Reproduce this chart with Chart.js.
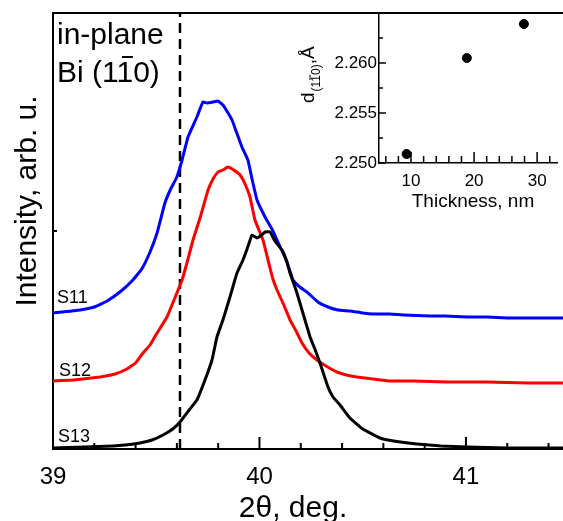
<!DOCTYPE html>
<html><head><meta charset="utf-8">
<script src="https://cdn.jsdelivr.net/npm/chart.js@4.4.1/dist/chart.umd.min.js"></script>
<style>
html,body{margin:0;padding:0;background:#fff;}
#wrap{position:relative;width:563px;height:521px;overflow:hidden;background:#fff;}
#main{position:absolute;left:0;top:0;}
#inset{position:absolute;left:290px;top:0;}
</style></head><body>
<div id="wrap"><canvas id="main" width="563" height="521"></canvas><canvas id="inset" width="273" height="215"></canvas></div>
<script>
const FONT = '"Liberation Sans", Arial, Helvetica, sans-serif';

// ---- main panel data (2θ in degrees, intensity in arb. u.) ----
const angleS11 = [39.000,39.131,39.200,39.262,39.330,39.387,39.430,39.470,39.504,39.542,39.570,39.600,39.625,39.654,39.697,39.726,39.745,39.775,39.799,39.823,39.845,39.867,39.890,39.915,39.944,39.965,39.988,40.027,40.060,40.085,40.133,40.162,40.195,40.230,40.283,40.332,40.380,40.438,40.500,40.550,40.632,40.700,40.826,40.900,41.005,41.100,41.200,41.300,41.470];
const intensityS11 = [136,139,142,148,158,169,180,197,216,246,260,272,289,312,332,347,346,347,348,344,337,329,316,302,289,269,249,232,220,209,187,169,162,157,147,142,139,138,136,135,135,134,133,133,132,132,131,131,131];

const angleS12 = [39.000,39.100,39.228,39.300,39.358,39.400,39.436,39.470,39.504,39.552,39.600,39.625,39.650,39.678,39.715,39.751,39.775,39.799,39.823,39.847,39.875,39.906,39.930,39.954,39.978,40.017,40.040,40.065,40.085,40.120,40.148,40.180,40.206,40.240,40.278,40.330,40.375,40.420,40.472,40.550,40.632,40.750,40.900,41.100,41.300,41.470];
const intensityS12 = [68,69,72,75,80,86,96,104,116,132,156,169,187,209,233,259,270,277,279,282,279,274,265,252,229,209,190,170,159,143,129,117,106,96,89,82,77,74,72,70,68,68,67,67,66,66];

const angleS13 = [39.000,39.150,39.291,39.350,39.421,39.480,39.533,39.580,39.615,39.663,39.697,39.736,39.770,39.794,39.823,39.857,39.891,39.920,39.940,39.964,39.988,40.010,40.027,40.051,40.075,40.109,40.130,40.148,40.180,40.206,40.245,40.270,40.293,40.332,40.356,40.390,40.438,40.500,40.584,40.650,40.763,40.880,41.005,41.200,41.470];
const intensityS13 = [1,2,3,4,6,9,14,20,27,40,49,69,89,112,129,152,176,189,200,214,211,214,217,217,208,199,189,176,157,139,112,99,86,62,52,44,31,20,11,8,5,3,2,1,1];

const dashedAngle = 39.615;
const xTickValues = [39, 40, 41];
const seriesLabels = ['S11', 'S12', 'S13'];

// ---- inset data ----
const thickness = [9.3, 18.85, 27.9];
const dSpacing = [2.2509, 2.2605, 2.2639];
const insetXTicks = [10, 20, 30];
const insetYTicks = [2.250, 2.255, 2.260];

const pts = (xs, ys) => xs.map((x, i) => ({x, y: ys[i]}));

const mainDecor = {
  id: 'mainDecor',
  afterDraw(chart) {
    const ctx = chart.ctx, xs = chart.scales.x, ys = chart.scales.y;
    const {left, right, top, bottom} = chart.chartArea;
    ctx.save();
    ctx.strokeStyle = '#000'; ctx.lineWidth = 2;
    ctx.beginPath(); ctx.moveTo(left - 1, top); ctx.lineTo(right, top); ctx.stroke();
    for (let i = 0; i <= 12; i++) {
      const v = 39 + i * 0.2;
      const px = xs.getPixelForValue(v);
      const len = (i % 5 === 0) ? 12 : 6;
      ctx.beginPath(); ctx.moveTo(px, bottom); ctx.lineTo(px, bottom - len); ctx.stroke();
    }
    const my = ys.getPixelForValue((ys.min + ys.max) / 2);
    ctx.beginPath(); ctx.moveTo(left, my); ctx.lineTo(left + 4, my); ctx.stroke();

    ctx.fillStyle = '#000';
    ctx.textAlign = 'left'; ctx.textBaseline = 'alphabetic';
    ctx.font = '30px ' + FONT;
    ctx.fillText('in-plane', 57, 44);
    ctx.fillText('Bi (110)', 57, 82);
    const w1 = ctx.measureText('Bi (1').width, w2 = ctx.measureText('1').width;
    ctx.lineWidth = 2;
    ctx.beginPath(); ctx.moveTo(57 + w1 + 0.2 * w2, 57); ctx.lineTo(57 + w1 + 0.85 * w2, 57); ctx.stroke();

    ctx.font = '18px ' + FONT;
    ctx.fillText(seriesLabels[0], 57, 303);
    ctx.fillText(seriesLabels[1], 59, 376);
    ctx.fillText(seriesLabels[2], 58, 442);

    ctx.font = '30px ' + FONT;
    ctx.textAlign = 'center';
    ctx.fillText('2\u03B8, deg.', 293, 517);
    ctx.save();
    ctx.translate(36, 201); ctx.rotate(-Math.PI / 2);
    ctx.fillText('Intensity, arb. u.', 0, 0);
    ctx.restore();
    ctx.restore();
  }
};

new Chart(document.getElementById('main'), {
  type: 'line',
  data: {
    datasets: [
      {label: 'S13', data: pts(angleS13, intensityS13), borderColor: '#000000', borderWidth: 3, pointRadius: 0, tension: 0.1, fill: false},
      {label: 'S12', data: pts(angleS12, intensityS12), borderColor: '#ff0000', borderWidth: 3, pointRadius: 0, tension: 0.1, fill: false},
      {label: 'S11', data: pts(angleS11, intensityS11), borderColor: '#0000ff', borderWidth: 3, pointRadius: 0, tension: 0.1, fill: false},
      {label: 'ref', data: [{x: dashedAngle, y: 0}, {x: dashedAngle, y: 436}], borderColor: '#000', borderWidth: 2.5, borderDash: [10, 6], pointRadius: 0, fill: false}
    ]
  },
  options: {
    responsive: false, animation: false, devicePixelRatio: 1,
    layout: {padding: {top: 13, left: 0, right: 0, bottom: 0}},
    plugins: {legend: {display: false}, tooltip: {enabled: false}},
    scales: {
      x: {
        type: 'linear', min: 39, max: 41.47,
        afterBuildTicks(s) { s.ticks = xTickValues.map(v => ({value: v})); },
        ticks: {font: {family: FONT, size: 24}, color: '#000', padding: 14, maxRotation: 0, autoSkip: false, callback: v => String(v)},
        grid: {display: false, drawTicks: false},
        border: {display: true, color: '#000', width: 2},
        afterFit(s) { s.height = 72; }
      },
      y: {
        type: 'linear', min: 0, max: 436,
        ticks: {display: false},
        grid: {display: false, drawTicks: false},
        border: {display: true, color: '#000', width: 2},
        afterFit(s) { s.width = 53; }
      }
    }
  },
  plugins: [mainDecor]
});

const insetDecor = {
  id: 'insetDecor',
  afterDraw(chart) {
    const ctx = chart.ctx, xs = chart.scales.x, ys = chart.scales.y;
    const {left, bottom} = chart.chartArea;
    ctx.save();
    ctx.strokeStyle = '#000'; ctx.lineWidth = 1.5;
    for (let t = 6; t <= 32; t += 2) {
      const px = xs.getPixelForValue(t);
      const len = (t % 10 === 0) ? 11 : 7;
      ctx.beginPath(); ctx.moveTo(px, bottom); ctx.lineTo(px, bottom - len); ctx.stroke();
    }
    for (let i = 0; i < 6; i++) {
      const v = 2.250 + i * 0.0025;
      const py = ys.getPixelForValue(v);
      const len = (i % 2 === 0) ? 7 : 4;
      ctx.beginPath(); ctx.moveTo(left, py); ctx.lineTo(left + len, py); ctx.stroke();
    }
    ctx.fillStyle = '#000';
    ctx.font = '19px ' + FONT; ctx.textAlign = 'center'; ctx.textBaseline = 'alphabetic';
    ctx.fillText('Thickness, nm', 183, 207);
    ctx.save();
    ctx.translate(24, 103); ctx.rotate(-Math.PI / 2);
    ctx.textAlign = 'left';
    ctx.font = '19px ' + FONT;
    ctx.fillText('d', 0, 0);
    let x = ctx.measureText('d').width + 1;
    ctx.font = '12px ' + FONT;
    const sub = '(110)';
    ctx.fillText(sub, x, 6);
    const a = ctx.measureText('(1').width, b = ctx.measureText('1').width;
    ctx.lineWidth = 1;
    ctx.beginPath(); ctx.moveTo(x + a + 0.1 * b, -4); ctx.lineTo(x + a + 0.9 * b, -4); ctx.stroke();
    x += ctx.measureText(sub).width;
    ctx.font = '19px ' + FONT;
    ctx.fillText(',\u00C5', x, 0);
    ctx.restore();
    ctx.restore();
  }
};

new Chart(document.getElementById('inset'), {
  type: 'scatter',
  data: {datasets: [{data: pts(thickness, dSpacing), backgroundColor: '#000', borderColor: '#000', pointRadius: 4.5, pointHoverRadius: 4.5, showLine: false}]},
  options: {
    responsive: false, animation: false, devicePixelRatio: 1,
    layout: {padding: {top: 13, left: 0, right: 0, bottom: 0}},
    plugins: {legend: {display: false}, tooltip: {enabled: false}},
    scales: {
      x: {
        type: 'linear', min: 4.92, max: 33.23,
        afterBuildTicks(s) { s.ticks = insetXTicks.map(v => ({value: v})); },
        ticks: {font: {family: FONT, size: 17}, color: '#000', padding: 8, maxRotation: 0, autoSkip: false, callback: v => String(v)},
        grid: {display: false, drawTicks: false},
        border: {display: true, color: '#000', width: 1.5},
        afterFit(s) { s.height = 52; }
      },
      y: {
        type: 'linear', min: 2.250, max: 2.265,
        afterBuildTicks(s) { s.ticks = insetYTicks.map(v => ({value: v})); },
        ticks: {font: {family: FONT, size: 17}, color: '#000', padding: 2, autoSkip: false, callback: v => v.toFixed(3)},
        grid: {display: false, drawTicks: false},
        border: {display: true, color: '#000', width: 1.5},
        afterFit(s) { s.width = 89; }
      }
    }
  },
  plugins: [insetDecor]
});
</script>
</body></html>
